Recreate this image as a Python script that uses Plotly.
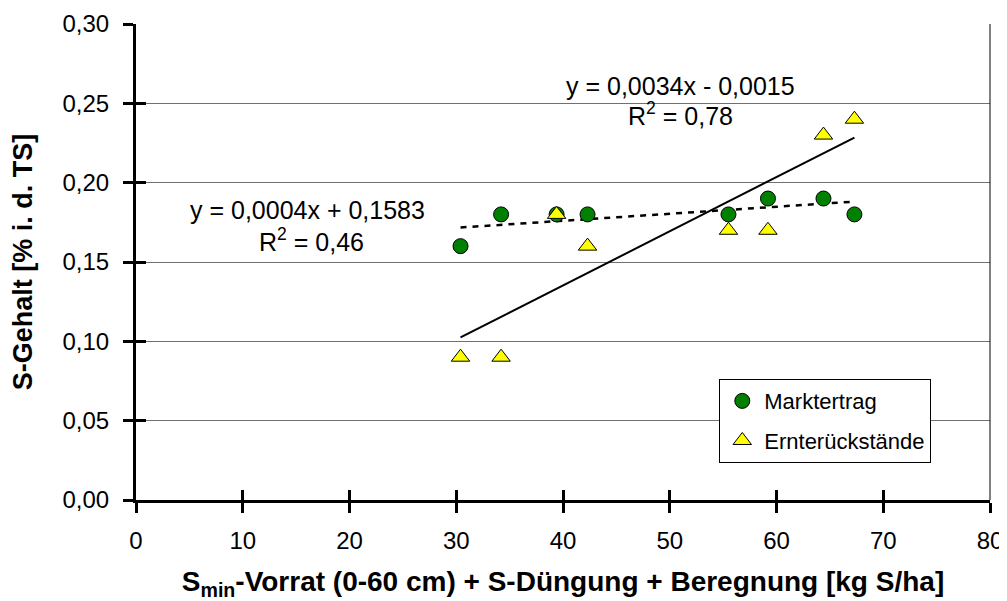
import numpy as np
import plotly.graph_objects as go

x_vals = [30.4, 34.2, 39.4, 42.3, 55.5, 59.2, 64.4, 67.3]
markt = [0.16, 0.18, 0.18, 0.18, 0.18, 0.19, 0.19, 0.18]
ernte = [0.09, 0.09, 0.18, 0.16, 0.17, 0.17, 0.23, 0.24]
x_ticks = [0, 10, 20, 30, 40, 50, 60, 70, 80]
y_ticks = [0.0, 0.05, 0.10, 0.15, 0.20, 0.25, 0.30]

FONT = "Liberation Sans, Arial, sans-serif"

x_arr = np.array(x_vals)
xl = np.array([x_arr.min(), x_arr.max()])
pm = np.polyfit(x_arr, markt, 1)
pe = np.polyfit(x_arr, ernte, 1)

fig = go.Figure()
fig.add_trace(go.Scatter(x=xl, y=np.polyval(pm, xl), mode="lines",
                         line=dict(color="black", width=2.5, dash="6px,6px"),
                         showlegend=False, hoverinfo="skip"))
fig.add_trace(go.Scatter(x=xl, y=np.polyval(pe, xl), mode="lines",
                         line=dict(color="black", width=2),
                         showlegend=False, hoverinfo="skip"))
fig.add_trace(go.Scatter(x=x_vals, y=markt, mode="markers", name="Marktertrag",
                         legendgroup="a",
                         marker=dict(symbol="circle", size=15, color="#008000",
                                     line=dict(color="black", width=1))))
fig.add_trace(go.Scatter(x=x_vals, y=ernte, mode="markers", name="Ernterückstände",
                         legendgroup="b",
                         marker=dict(symbol="triangle-up", size=16, color="#FFFF00",
                                     line=dict(color="black", width=1))))
# invisible helper trace so the overlay axes (inner tick halves) are drawn
fig.add_trace(go.Scatter(x=[None], y=[None], xaxis="x2", yaxis="y2",
                         showlegend=False, hoverinfo="skip"))

ann_font = dict(family=FONT, size=25, color="black")
fig.add_annotation(x=51.0, y=0.261, xref="x", yref="y", text="y = 0,0034x - 0,0015",
                   showarrow=False, font=ann_font)
fig.add_annotation(x=51.0, y=0.243, xref="x", yref="y", text="R<sup>2</sup> = 0,78",
                   showarrow=False, font=ann_font)
fig.add_annotation(x=16.1, y=0.1828, xref="x", yref="y", text="y = 0,0004x + 0,1583",
                   showarrow=False, font=ann_font)
fig.add_annotation(x=16.4, y=0.164, xref="x", yref="y", text="R<sup>2</sup> = 0,46",
                   showarrow=False, font=ann_font)

fig.add_shape(type="line", xref="paper", yref="paper", x0=1, x1=1, y0=0, y1=1,
              line=dict(color="black", width=1))

common_tick = dict(ticklen=10, tickwidth=3, tickcolor="black")

# the page body adds an 8px offset, so the figure is 8px smaller than the window
fig.update_layout(
    width=999, height=593,
    margin=dict(l=128, r=17, t=16, b=101),
    paper_bgcolor="white", plot_bgcolor="white",
    separators=",.",
    font=dict(family=FONT, size=24, color="black"),
    showlegend=True,
    legend=dict(x=0.683, y=0.254, xanchor="left", yanchor="top",
                bgcolor="white", bordercolor="black", borderwidth=1,
                font=dict(family=FONT, size=22, color="black"),
                itemwidth=34, tracegroupgap=8),
    xaxis=dict(range=[0, 80], tickvals=x_ticks, ticks="outside", **common_tick,
               showline=True, linewidth=3, automargin=False,
               linecolor="black", showgrid=False, zeroline=False,
               ticklabelstandoff=7,
               tickfont=dict(family=FONT, size=24),
               title=dict(text="<b>S<sub>min</sub>-Vorrat (0-60 cm) + S-Düngung + Beregnung [kg S/ha]</b>",
                          font=dict(family=FONT, size=28), standoff=30)),
    yaxis=dict(range=[0, 0.30], tickvals=y_ticks, tickformat=".2f", ticks="outside",
               **common_tick, showline=True, linewidth=3, automargin=False,
               linecolor="black", showgrid=True, gridcolor="#707070", gridwidth=1,
               zeroline=False, ticklabelstandoff=9,
               tickfont=dict(family=FONT, size=24),
               title=dict(text="<b>S-Gehalt [% i. d. TS]</b>",
                          font=dict(family=FONT, size=27), standoff=24)),
    xaxis2=dict(range=[0, 80], tickvals=x_ticks, ticks="inside", **common_tick,
                overlaying="x", anchor="y", showticklabels=False, showgrid=False,
                zeroline=False, showline=False, automargin=False),
    yaxis2=dict(range=[0, 0.30], tickvals=y_ticks, ticks="inside", **common_tick,
                overlaying="y", anchor="x", showticklabels=False, showgrid=False,
                zeroline=False, showline=False, automargin=False),
)

fig.write_html("out.html")
